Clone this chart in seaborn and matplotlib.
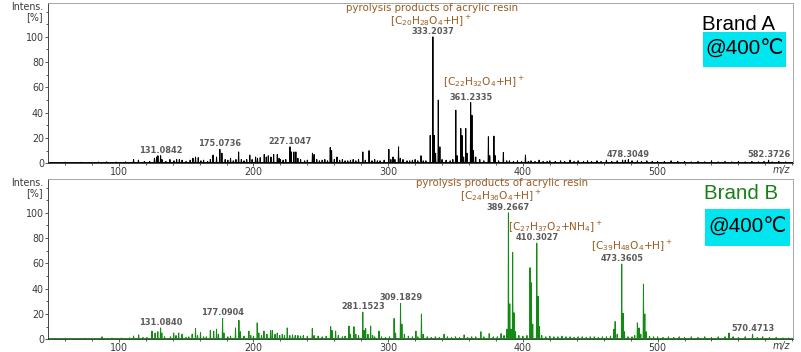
import matplotlib
matplotlib.use("Agg")
import matplotlib.pyplot as plt
from matplotlib.ticker import MultipleLocator
from matplotlib.patches import Rectangle
from matplotlib import font_manager
import numpy as np
import pandas as pd
import seaborn as sns

# ---------------- data ----------------
mz_a = [60, 72, 85, 91, 98, 105, 111, 114.6, 119, 123, 126.5, 128.1, 129.1, 131.08, 132.1, 135, 138, 141, 143, 145,
        147, 150, 153, 155.1, 157, 159, 161, 163, 166, 168, 170, 172.6, 175.07, 176.6, 179, 181, 183, 185, 187, 189,
        191, 193, 195, 197.3, 199, 201.6, 203, 205, 208, 209.5, 211, 213, 215, 217.7, 219, 220, 222, 224, 227.10, 228.1,
        230, 231.5, 233, 235, 238, 240, 243.8, 245, 247, 249, 251, 253, 255, 257, 258, 260, 262, 264, 266, 268,
        270, 272, 274, 276, 278, 281.2, 283, 285.8, 288, 290, 292, 294, 297, 300.5, 302, 303.6, 305, 307.7, 309, 311,
        314, 316, 318, 320, 322, 324.4, 326, 328, 331.2, 333.20, 334.2, 335.2, 337.2, 338.4, 340, 343, 346, 348, 350.2, 351.2,
        353.9, 354.8, 356, 357.6, 358.5, 361.23, 362.2, 363.3, 365, 368, 371, 374.4, 375.4, 378.5, 379.5, 382, 385.5, 388, 390, 393,
        396, 399, 401.9, 404, 406, 409, 412, 415, 418, 420, 424, 428, 431, 435, 438, 441, 445, 448, 451, 455,
        458, 462, 466, 470, 474, 476, 478.30, 481, 485, 488, 492, 496, 500, 505, 510, 515, 520, 525, 530, 535,
        540, 545, 550, 555, 560, 565, 570, 575, 579, 582.37, 585, 590, 595]
int_a = [0.8, 0.8, 1.0, 1.2, 1.0, 1.2, 3, 2.5, 1.5, 1.5, 4, 5, 6, 6, 3, 1.5, 3, 2, 3, 3,
         2.5, 1.5, 2.5, 4, 5, 4.5, 2, 2.5, 1.5, 3, 6.5, 5, 11, 8, 3, 2.5, 4, 2, 3, 9,
         3, 2, 3, 6.5, 3, 5, 4, 4.5, 7, 5, 6, 5, 7, 7, 4, 3, 2.5, 3, 13, 9,
         9, 9, 4, 3, 2, 2.5, 8, 7, 3, 2, 2.5, 3, 2, 12.5, 10, 3, 5, 2.5, 3, 2,
         2, 2.5, 3, 2, 3, 9, 2.5, 10, 2, 3, 2, 2, 2.5, 11, 3, 5, 3, 13, 4, 3,
         2, 2, 2.5, 3, 2, 6, 2, 2, 22, 100, 22, 8, 50, 13, 3, 2.5, 2, 3, 42, 6,
         27.5, 22, 5, 27.5, 8, 48, 38, 10, 5, 3, 2, 21, 6, 21.5, 6, 2, 8.5, 2, 2, 1.5,
         2, 1.5, 6.5, 1.5, 2, 1.5, 2.5, 1.5, 1.5, 2, 1.5, 2, 1.5, 2.5, 1.5, 2, 1.5, 2, 1.5, 2,
         1.5, 2.5, 1.5, 2, 2.5, 2.5, 3, 2, 2, 1.5, 2, 1.5, 1.5, 1.5, 2, 1.5, 1.5, 1.2, 1.5, 1.2,
         2, 1.2, 1.5, 1.2, 1.5, 1.2, 1.5, 1.2, 1.5, 2.5, 1.2, 1.5, 1.2]

mz_b = [60, 75, 87.6, 95, 102, 108, 111, 114.8, 118, 121, 124.7, 127, 129, 131.08, 132, 134, 138.4, 140.8, 142.5, 144.5,
        147, 150, 152, 154.5, 157, 158.5, 160.7, 163, 165, 168, 170.5, 172.6, 174, 177.09, 178.1, 181, 183, 186.7, 189.2, 190.3,
        193, 196.6, 198, 200, 202.8, 204, 206, 207.8, 210, 212.7, 214, 216, 217.7, 219.5, 221.4, 223, 225.1, 227, 229, 231,
        233, 235, 237, 240, 243.7, 245, 248, 251, 254, 257.3, 258.3, 261, 263, 266, 268, 270.9, 272, 274.6, 276, 278,
        281.15, 282.2, 283.3, 285, 287, 288.5, 290, 293.2, 295, 298, 301, 304.4, 305.5, 309.18, 310.2, 312, 315, 318, 320.6, 322,
        324.7, 326, 329, 332, 335, 338, 341.5, 344, 347, 350, 353, 356.4, 359, 362, 365, 368.8, 371, 375, 378, 381,
        383.8, 386, 388.2, 389.27, 390.27, 391.2, 392.4, 393.4, 394.5, 397, 400, 403, 405.3, 406.3, 407.3, 410.30, 411.3, 412.3, 414, 417,
        420, 423, 426, 429, 432, 435, 438, 441, 444, 447, 450, 453, 456, 459, 462, 465, 467.6, 468.5, 470, 473.36,
        474.4, 475.4, 478, 481, 483, 485, 486.2, 487.5, 489.5, 490.5, 491.5, 494, 497, 500, 504, 508, 512, 516, 520, 525,
        530, 535, 540, 545, 550, 553, 556, 560, 565, 570.47, 574, 578, 583, 588, 593, 597]
int_b = [0.8, 0.8, 2, 1, 1, 1.2, 2.6, 3.5, 1.5, 1.5, 6.5, 5, 6, 9, 5, 2, 2, 5, 3, 5,
         4, 1.5, 2, 4, 8.7, 3, 5.5, 2, 2, 7, 6.5, 8, 4, 16.5, 5, 2, 2.5, 9, 15, 6,
         2.5, 6.5, 3, 2.5, 13, 5, 3, 6.5, 4, 7, 7, 4, 5, 3, 4, 3, 9, 3, 3.5, 3,
         3, 2.5, 3, 2.5, 8.5, 3, 2.5, 2, 2.5, 10, 7, 6.5, 3, 2, 2.5, 10.5, 4, 10, 4, 3,
         21.5, 7, 8.5, 4, 10.5, 3, 2, 6.5, 2, 1.5, 2, 16.5, 5, 28.4, 12, 4, 2.5, 2, 6.5, 2,
         20, 4, 2, 1.5, 2, 1.5, 4, 2, 1.5, 2, 1.5, 3.5, 1.5, 2, 2, 6, 2, 4.5, 2, 2,
         4.5, 3, 8, 100, 28, 8, 68.7, 21, 6, 3, 2.5, 3, 56.6, 44.7, 12, 76, 34, 10, 3, 2,
         2.5, 2, 2, 2.5, 2, 2, 1.5, 2, 2, 1.5, 2, 2, 1.5, 2, 2, 2.5, 8, 14, 4, 59.5,
         20.5, 6, 2, 2, 3, 13, 9, 4, 43.7, 20, 6, 2.5, 2, 2, 1.5, 2, 1.5, 2, 1.5, 2,
         1.5, 2, 1.5, 2, 2, 5, 2, 1.5, 2, 4, 1.5, 2, 1.5, 1.5, 1.2, 1]

peaks_a = [131.08, 175.07, 227.10, 333.20, 361.23, 478.30, 582.37]
labels_a = ["131.0842", "175.0736", "227.1047", "333.2037", "361.2335", "478.3049", "582.3726"]
peaks_b = [131.08, 177.09, 281.15, 309.18, 389.27, 410.30, 473.36, 570.47]
labels_b = ["131.0840", "177.0904", "281.1523", "309.1829", "389.2667", "410.3027", "473.3605", "570.4713"]

xticks = [100, 200, 300, 400, 500]
yticks = [0, 20, 40, 60, 80, 100]

# ---------------- style ----------------
sns.set_theme(style="white")
plt.rcParams["font.family"] = ["DejaVu Sans"]
plt.rcParams["mathtext.fontset"] = "dejavusans"

names = {f.name for f in font_manager.fontManager.ttflist}
big_font = ["Liberation Sans Narrow", "DejaVu Sans"] if "Liberation Sans Narrow" in names else ["Liberation Sans", "DejaVu Sans"]

W, H = 801, 352
fig = plt.figure(figsize=(W / 72, H / 72), dpi=72)
ax_a = fig.add_axes([48 / W, 1 - 163.3 / H, 745 / W, 160.6 / H])
ax_b = fig.add_axes([48 / W, 1 - 339.3 / H, 745 / W, 160.6 / H])

BROWN = "#9a5b22"
GRAY = "#5a5a5a"


def profile(mz, inten, base=0.6):
    xs, ys = [47.5], [base]
    for m, h in sorted(zip(mz, inten)):
        xs += [m - 0.25, m, m + 0.25]
        ys += [base, h, base]
    xs.append(600.5)
    ys.append(base)
    return pd.DataFrame({"mz": xs, "intensity": ys})


def style_axis(ax):
    ax.set_xlim(47.5, 600.5)
    ax.set_ylim(0, 127)
    ax.set_xticks(xticks)
    ax.set_yticks(yticks)
    ax.xaxis.set_minor_locator(MultipleLocator(20))
    ax.yaxis.set_minor_locator(MultipleLocator(10))
    ax.set_xlabel("")
    ax.set_ylabel("")
    ax.tick_params(which="both", bottom=True, left=True, top=False, right=False, direction="out",
                   color="#333333", width=0.8)
    ax.tick_params(which="major", length=3, labelsize=9.5, labelcolor="#3a3a3a", pad=1)
    ax.tick_params(which="minor", length=2)
    for s in ["left", "bottom"]:
        ax.spines[s].set_color("#333333")
        ax.spines[s].set_linewidth(0.9)
    for s in ["top", "right"]:
        ax.spines[s].set_color("#a0a0a0")
        ax.spines[s].set_linewidth(0.9)


def peak_labels(ax, peaks, labels, mz, inten):
    lookup = dict(zip(mz, inten))
    for p, lab in zip(peaks, labels):
        ax.annotate(lab, xy=(p, lookup[p]), xytext=(0, 5.5), textcoords="offset pixels",
                    ha="center", va="center", fontsize=8.3, fontweight="bold", color=GRAY)


for ax, mz, inten, col in [(ax_a, mz_a, int_a, "black"), (ax_b, mz_b, int_b, "#138a13")]:
    df = profile(mz, inten)
    sns.lineplot(data=df, x="mz", y="intensity", sort=False, estimator=None, color=col, lw=1.0, ax=ax)
    style_axis(ax)

peak_labels(ax_a, peaks_a, labels_a, mz_a, int_a)
peak_labels(ax_b, peaks_b, labels_b, mz_b, int_b)


def brown(ax, text, xy, off, size=10.5):
    ax.annotate(text, xy=xy, xytext=off, textcoords="offset pixels", ha="center", va="center",
                fontsize=size, color=BROWN)


brown(ax_a, "pyrolysis products of acrylic resin", (333.20, 100), (-1, 28.5), 10.3)
brown(ax_a, r"[C$_{20}$H$_{28}$O$_4$+H]$^+$", (333.20, 100), (-2, 16.5))
brown(ax_a, r"[C$_{22}$H$_{32}$O$_4$+H]$^+$", (361.23, 48), (13.3, 21.5))
brown(ax_b, "pyrolysis products of acrylic resin", (389.27, 100), (-6.5, 29.5), 10.3)
brown(ax_b, r"[C$_{24}$H$_{36}$O$_4$+H]$^+$", (389.27, 100), (-7.5, 17.5))
brown(ax_b, r"[C$_{27}$H$_{37}$O$_2$+NH$_4$]$^+$", (410.30, 76), (18, 16.5))
brown(ax_b, r"[C$_{39}$H$_{48}$O$_4$+H]$^+$", (473.36, 59.5), (10, 18.5))


def brand(ax, name, color, name_y, box_x0, box_x1, box_y0, box_y1, name_right):
    # positions in panel pixels (from panel top)
    def fx(px):
        return (px - 48) / 745

    def fy(py):
        return 1 - py / 160.6

    ax.text(fx(name_right), fy(name_y), name, transform=ax.transAxes, ha="right", va="center",
            fontsize=20.5, color=color, family=big_font)
    ax.add_patch(Rectangle((fx(box_x0), fy(box_y1)), fx(box_x1) - fx(box_x0), fy(box_y0) - fy(box_y1),
                           transform=ax.transAxes, facecolor="#00e6f0", edgecolor="none", zorder=3))
    ax.text((fx(box_x0) + fx(box_x1)) / 2, (fy(box_y0) + fy(box_y1)) / 2, "@400℃", transform=ax.transAxes,
            ha="center", va="center", fontsize=20.5, color="black", family=big_font, zorder=4)


brand(ax_a, "Brand A", "black", 21.3, 702.7, 786, 29, 64, 775)
brand(ax_b, "Brand B", "#1a7f1a", 14.8, 705, 790, 30.3, 67.3, 778)

for top in [0, 176]:
    fig.text(43 / W, 1 - (top + 6.7) / H, "Intens.", ha="right", va="center", fontsize=9.5, color="#3a3a3a")
    fig.text(43 / W, 1 - (top + 16.7) / H, "[%]", ha="right", va="center", fontsize=9.5, color="#3a3a3a")
    fig.text(781.5 / W, 1 - (top + 170) / H, "m/z", ha="center", va="center", fontsize=9.5, color="#3a3a3a",
             style="italic")

fig.savefig("out.png", dpi=72, facecolor="white")
